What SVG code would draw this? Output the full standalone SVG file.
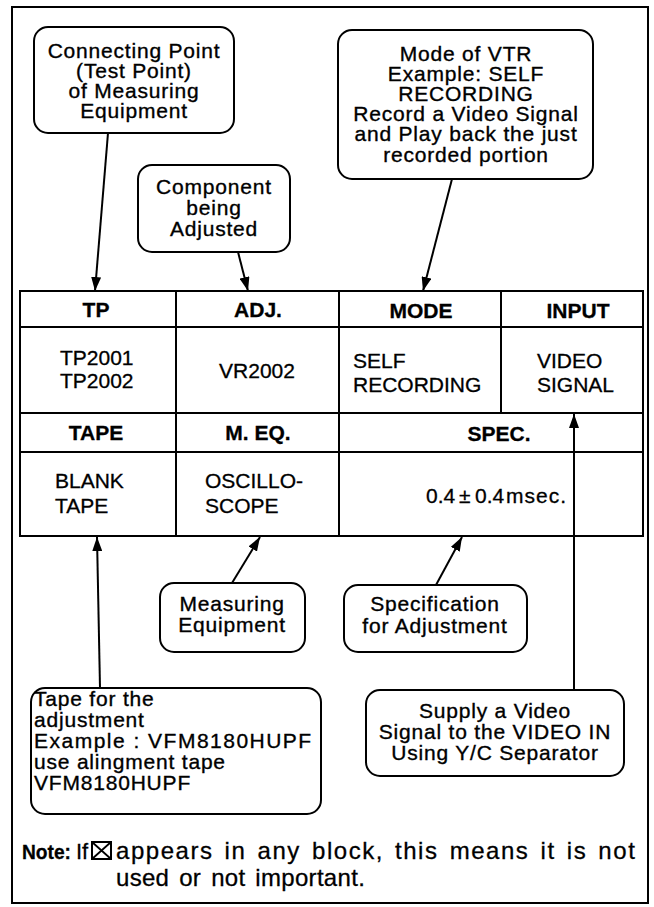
<svg xmlns="http://www.w3.org/2000/svg" width="654" height="907" viewBox="0 0 654 907">
<style>
  text { font-family: "Liberation Sans", Arial, Helvetica, sans-serif; fill: #000; }
  .call { font-size: 21px; letter-spacing: 0.8px; stroke: #000; stroke-width: 0.35px; text-anchor: middle; }
  .callL { font-size: 21px; letter-spacing: 0.8px; stroke: #000; stroke-width: 0.35px; }
  .hdr { font-size: 21px; font-weight: bold; text-anchor: middle; stroke: #000; stroke-width: 0.3px; }
  .val { font-size: 21px; stroke: #000; stroke-width: 0.3px; }
  .box { fill: #fff; stroke: #000; stroke-width: 2; }
  .grid { fill: none; stroke: #000; stroke-width: 2; }
  .conn { stroke: #000; stroke-width: 2; fill: none; }
  .note { font-size: 24px; letter-spacing: 1.2px; word-spacing: 3px; stroke: #000; stroke-width: 0.3px; }
</style>
<defs>
  <marker id="ah" viewBox="0 0 14 10" refX="14" refY="5" markerWidth="14" markerHeight="10" markerUnits="userSpaceOnUse" orient="auto">
    <path d="M0,0 L14,5 L0,10 z" fill="#000"/>
  </marker>
</defs>
<rect width="654" height="907" fill="#fff"/>
<rect id="frame" x="12" y="7" width="636" height="896" fill="none" stroke="#000" stroke-width="2"/>

<g id="table">
  <rect class="grid" x="20" y="291" width="623" height="245"/>
  <line class="grid" x1="20" y1="327" x2="643" y2="327"/>
  <line class="grid" x1="20" y1="413" x2="643" y2="413"/>
  <line class="grid" x1="20" y1="452" x2="643" y2="452"/>
  <line class="grid" x1="176" y1="291" x2="176" y2="536"/>
  <line class="grid" x1="339" y1="291" x2="339" y2="536"/>
  <line class="grid" x1="501" y1="291" x2="501" y2="413"/>
  <text class="hdr" x="96" y="317">TP</text>
  <text class="hdr" x="258" y="317">ADJ.</text>
  <text class="hdr" x="421" y="318">MODE</text>
  <text class="hdr" x="578" y="318">INPUT</text>
  <text class="val" x="60" y="365">TP2001</text>
  <text class="val" x="60" y="388">TP2002</text>
  <text class="val" x="257" y="378" text-anchor="middle">VR2002</text>
  <text class="val" x="353" y="368">SELF</text>
  <text class="val" x="353" y="392">RECORDING</text>
  <text class="val" x="537" y="368">VIDEO</text>
  <text class="val" x="537" y="392">SIGNAL</text>
  <text class="hdr" x="96" y="440">TAPE</text>
  <text class="hdr" x="258" y="440">M. EQ.</text>
  <text class="hdr" x="499" y="441">SPEC.</text>
  <text class="val" x="55" y="488">BLANK</text>
  <text class="val" x="55" y="513">TAPE</text>
  <text class="val" x="205" y="488">OSCILLO-</text>
  <text class="val" x="205" y="513">SCOPE</text>
  <text class="val" y="503"><tspan x="426">0.4</tspan><tspan x="459">±</tspan><tspan x="475">0.4</tspan><tspan x="506" letter-spacing="1">msec.</tspan></text>
</g>

<g id="connectors">
  <line class="conn" x1="108" y1="133" x2="95" y2="291" marker-end="url(#ah)"/>
  <line class="conn" x1="238" y1="252" x2="248" y2="291" marker-end="url(#ah)"/>
  <line class="conn" x1="452" y1="179" x2="423" y2="291" marker-end="url(#ah)"/>
  <line class="conn" x1="100" y1="688" x2="97" y2="537" marker-end="url(#ah)"/>
  <line class="conn" x1="232" y1="583" x2="260" y2="537" marker-end="url(#ah)"/>
  <line class="conn" x1="436" y1="585" x2="462" y2="537" marker-end="url(#ah)"/>
  <line class="conn" x1="574" y1="690" x2="574" y2="414" marker-end="url(#ah)"/>
</g>

<g id="n-testpoint">
  <rect class="box" x="34" y="27" width="200" height="106" rx="14"/>
  <text class="call" x="134" y="58">Connecting Point</text>
  <text class="call" x="134" y="78">(Test Point)</text>
  <text class="call" x="134" y="98">of Measuring</text>
  <text class="call" x="134" y="118">Equipment</text>
</g>

<g id="n-component">
  <rect class="box" x="138" y="165" width="152" height="87" rx="14"/>
  <text class="call" x="214" y="194">Component</text>
  <text class="call" x="214" y="215">being</text>
  <text class="call" x="214" y="236">Adjusted</text>
</g>

<g id="n-mode">
  <rect class="box" x="338" y="30" width="255" height="149" rx="14"/>
  <text class="call" x="466" y="61">Mode of VTR</text>
  <text class="call" x="466" y="81">Example: SELF</text>
  <text class="call" x="466" y="101">RECORDING</text>
  <text class="call" x="466" y="121">Record a Video Signal</text>
  <text class="call" x="466" y="141">and Play back the just</text>
  <text class="call" x="466" y="162">recorded portion</text>
</g>

<g id="n-measuring">
  <rect class="box" x="160" y="583" width="145" height="69" rx="14"/>
  <text class="call" x="232" y="611">Measuring</text>
  <text class="call" x="232" y="632">Equipment</text>
</g>

<g id="n-spec">
  <rect class="box" x="344" y="585" width="183" height="67" rx="14"/>
  <text class="call" x="435" y="611">Specification</text>
  <text class="call" x="435" y="633">for Adjustment</text>
</g>

<g id="n-tape">
  <rect class="box" x="31" y="688" width="290" height="126" rx="14"/>
  <text class="callL" x="34" y="706">Tape  for  the</text>
  <text class="callL" x="34" y="727">adjustment</text>
  <text class="callL" x="34" y="748" textLength="278" lengthAdjust="spacing">Example : VFM8180HUPF</text>
  <text class="callL" x="34" y="769">use alingment tape</text>
  <text class="callL" x="34" y="790">VFM8180HUPF</text>
</g>

<g id="n-supply">
  <rect class="box" x="366" y="690" width="258" height="86" rx="14"/>
  <text class="call" x="495" y="718">Supply a Video</text>
  <text class="call" x="495" y="739">Signal to the VIDEO IN</text>
  <text class="call" x="495" y="760">Using Y/C Separator</text>
</g>

<g id="note">
  <text x="22" y="859" font-size="21" font-weight="bold" stroke="#000" stroke-width="0.3" textLength="49" lengthAdjust="spacingAndGlyphs">Note:</text>
  <text x="76" y="859" font-size="22" stroke="#000" stroke-width="0.3">If</text>
  <rect x="92" y="842" width="19" height="17" fill="none" stroke="#000" stroke-width="2"/>
  <path d="M92,842 L111,859 M111,842 L92,859" stroke="#000" stroke-width="1.8" fill="none"/>
  <text class="note" x="116" y="859" textLength="520" lengthAdjust="spacing">appears in any block, this means it is not</text>
  <text class="note" x="116" y="886" textLength="250" lengthAdjust="spacing">used or not important.</text>
</g>
</svg>
